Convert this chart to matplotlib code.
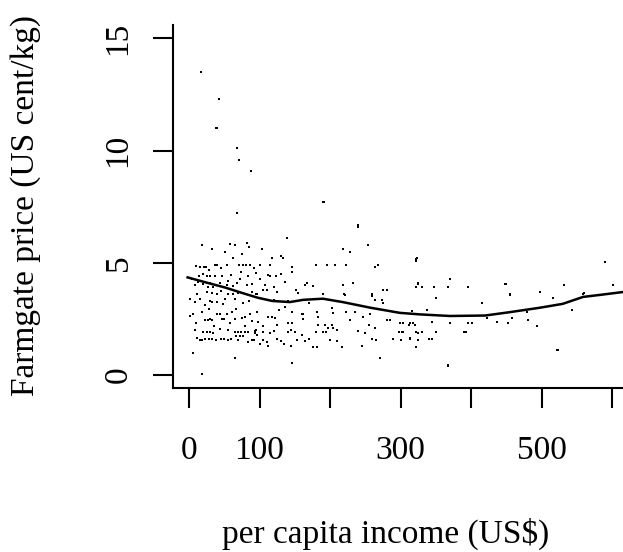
import numpy as np
import matplotlib
matplotlib.use("Agg")
import matplotlib.pyplot as plt

# farm-gate price vs per capita income, one dot per observation
income = [17, 43, 38, 40, 68, 71, 88, 190, 192, 68, 240, 240, 139,
          18, 58, 65, 82, 85, 103, 33, 51, 62, 118, 133, 134, 218, 228, 254, 323, 322, 322, 590, 131, 75,
          16, 21, 24, 37, 40, 54, 71, 76, 81, 86, 100, 115, 146, 180, 196, 207, 223, 264, 268, 10, 28, 45, 92,
          74, 95, 146, 14, 26, 30, 37, 47, 72, 84, 112, 115, 123, 370, 4, 60, 100, 20, 56, 130,
          136, 13, 30, 27, 34, 44, 54, 68, 82, 165, 167, 176, 218, 233, 325, 325, 448, 450, 532, 601, 8, 20, 39, 62, 90, 108, 120,
          69, 75, 95, 96, 89, 105, 110, 152, 155, 190, 220, 221, 260, 260, 275, 281, 322, 330, 348, 367, 396, 455, 455, 498, 559, 560, 25, 45, 12, 55, 32, 125,
          274, 264, 275, 9, 16, 30, 33, 40, 40, 51, 62, 65, 350, 416, 516, 85, 100, 120, 140, 170, 2, 22, 48, 76,
          136, 146, 162, 181, 183, 203, 204, 223, 235, 247, 257, 316, 337, 543, 479, 423, 458, 1, 6, 18, 40, 44, 54, 61, 86, 96, 97, 112, 118, 122, 160, 75, 79, 128, 28, 67,
          23, 27, 30, 33, 47, 49, 65, 98, 140, 146, 162, 183, 193, 197, 203, 204, 228, 255, 264, 281, 285, 299, 303, 313, 318, 312, 320, 345, 370, 396, 401, 437, 452, 481, 494, 10, 58, 80, 105, 125, 36, 90,
          20, 25, 30, 34, 44, 65, 70, 74, 79, 84, 67, 72, 76, 93, 94, 95, 96, 105, 115, 120, 140, 145, 150, 180, 190, 195, 298, 303, 302, 322, 330, 350, 390, 393, 325, 240, 250, 8, 55, 160, 210,
          11, 16, 18, 22, 28, 32, 38, 45, 50, 55, 60, 70, 89, 92, 105, 111, 125, 130, 153, 165, 170, 200, 210, 260, 265, 290, 300, 313, 313, 325, 340, 345, 83, 100, 135,
          176, 181, 217, 322, 6, 65, 146, 271, 18, 367, 367, 522, 524, 145, 112, 245]

price = [13.5, 12.3, 11.0, 11.0, 10.1, 9.6, 9.1, 7.7, 7.7, 7.2, 6.7, 6.6, 6.1,
         5.8, 5.85, 5.8, 5.9, 5.7, 5.6, 5.6, 5.5, 5.2, 5.2, 5.2, 5.2, 5.6, 5.5, 5.8, 5.2, 5.15, 5.1, 5.05, 5.3, 5.4,
         4.8, 4.8, 4.8, 4.9, 4.9, 4.9, 4.9, 4.9, 4.9, 4.9, 4.9, 4.9, 4.8, 4.9, 4.9, 4.9, 4.9, 4.8, 4.9, 4.85, 4.7, 4.75, 4.75,
         4.6, 4.55, 4.6, 4.4, 4.4, 4.4, 4.4, 4.4, 4.3, 4.4, 4.45, 4.4, 4.4, 4.3, 4.3, 4.45, 4.3, 4.5, 4.2, 4.5,
         4.15, 4.15, 4.1, 3.9, 3.9, 4.1, 4.0, 4.1, 4.0, 4.0, 4.1, 3.95, 4.0, 4.1, 4.1, 4.05, 4.05, 4.05, 4.0, 4.0, 4.0, 4.05, 4.0, 3.95, 4.05, 4.0, 3.9,
         3.65, 3.65, 3.6, 3.6, 3.7, 3.8, 3.8, 3.8, 3.65, 3.6, 3.6, 3.55, 3.6, 3.5, 3.8, 3.8, 3.9, 3.9, 3.9, 3.9, 3.9, 3.6, 3.55, 3.7, 3.6, 3.65, 3.7, 3.75, 3.6, 3.6, 3.65, 3.7,
         3.35, 3.35, 3.2, 3.25, 3.4, 3.3, 3.25, 3.6, 3.25, 3.4, 3.6, 3.4, 3.45, 3.2, 3.45, 3.3, 3.45, 3.35, 3.3, 3.2, 3.4, 3.1, 3.15, 3.2,
         3.05, 2.8, 2.7, 2.8, 2.6, 3.0, 2.75, 2.8, 2.8, 2.6, 2.7, 2.85, 2.9, 2.9, 2.8, 2.55, 2.55, 2.65, 2.7, 2.8, 2.7, 2.7, 2.7, 2.8, 2.7, 2.8, 2.8, 2.6, 2.6, 2.55, 2.7, 2.55, 2.6, 2.9, 2.95, 2.95,
         2.45, 2.45, 2.5, 2.45, 2.5, 2.5, 2.5, 2.35, 2.3, 2.3, 2.5, 2.25, 2.25, 2.1, 2.25, 2.1, 2.45, 2.25, 2.1, 2.45, 2.45, 2.3, 2.3, 2.3, 2.3, 2.25, 2.25, 2.35, 2.3, 2.3, 2.3, 2.35, 2.3, 2.45, 2.2, 2.3, 2.3, 2.2, 2.2, 2.25, 2.2, 2.4,
         1.9, 1.9, 1.9, 1.85, 2.05, 1.9, 1.9, 1.9, 1.9, 1.9, 1.75, 1.75, 1.75, 1.85, 1.95, 2.0, 1.8, 1.9, 1.85, 1.95, 1.9, 2.0, 1.9, 1.9, 1.9, 1.9, 1.9, 1.9, 1.9, 1.9, 1.9, 1.9, 1.9, 1.9, 1.85, 1.95, 1.85, 2.0, 2.0, 1.8, 2.0,
         1.65, 1.55, 1.55, 1.6, 1.6, 1.6, 1.55, 1.6, 1.6, 1.55, 1.6, 1.55, 1.55, 1.55, 1.55, 1.45, 1.6, 1.5, 1.55, 1.5, 1.6, 1.55, 1.5, 1.6, 1.55, 1.6, 1.55, 1.65, 1.6, 1.55, 1.6, 1.6, 1.45, 1.4, 1.4,
         1.25, 1.25, 1.25, 1.25, 1.0, 0.75, 0.55, 0.75, 0.05, 0.4, 0.45, 1.1, 1.1, 1.3, 1.3, 1.3]

# smoothed trend through the cloud
smooth_x = [-2, 27, 51, 75, 98, 118, 143, 162, 190, 218, 257, 299, 328, 370, 420, 455, 498, 530, 559, 583, 616]
smooth_y = [4.35, 4.1, 3.9, 3.66, 3.44, 3.3, 3.25, 3.35, 3.4, 3.25, 3.0, 2.77, 2.7, 2.63, 2.65, 2.8, 3.0, 3.17, 3.48, 3.57, 3.7]

xticks = [0, 100, 200, 300, 400, 500, 600]
xticklabels = ["0", "100", "", "300", "", "500", ""]
yticks = [0, 5, 10, 15]

plt.rcParams['font.family'] = ['Liberation Serif', 'DejaVu Serif']

W, H = 623, 552
fig = plt.figure(figsize=(W / 100, H / 100), dpi=100)
ax = fig.add_axes([173 / W, 1 - 388 / H, 1 - 173 / W, (388 - 25) / H])

ax.plot(income, price, 's', color='black', ms=2.0, mew=0)
ax.plot(smooth_x, smooth_y, '-', color='black', lw=1.8)

ax.set_xlim(-22.7, 615.6)
ax.set_ylim(-0.58, 15.6)

for s in ['top', 'right']:
    ax.spines[s].set_visible(False)
for s in ['left', 'bottom']:
    ax.spines[s].set_linewidth(1.5)

ax.set_xticks(xticks)
ax.set_xticklabels(xticklabels)
ax.set_yticks(yticks)
ax.set_yticklabels([str(v) for v in yticks])
ax.tick_params(axis='x', length=14.4, width=1.5, pad=20, labelsize=24)
ax.tick_params(axis='y', length=14.4, width=1.5, pad=14, labelsize=24)
for lab in ax.get_yticklabels():
    lab.set_rotation(90)
    lab.set_va('center')

fig.text(26 / W, 1 - 206 / H, "Farmgate price (US cent/kg)", rotation=90,
         ha='center', va='center', fontsize=24)
fig.text(386 / W, 9 / H, "per capita income (US$)", ha='center', va='baseline', fontsize=24)

fig.savefig("out.png", dpi=100)
